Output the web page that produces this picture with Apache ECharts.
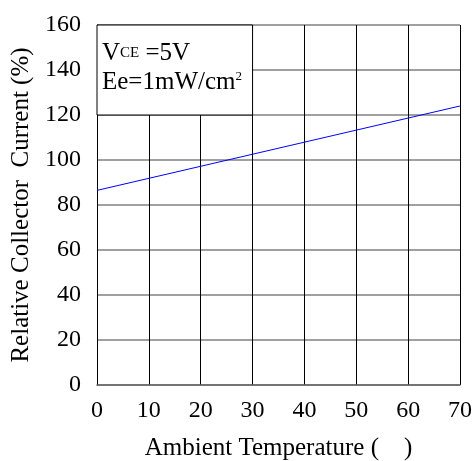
<!DOCTYPE html>
<html>
<head>
<meta charset="utf-8">
<script src="https://cdn.jsdelivr.net/npm/echarts@6/dist/echarts.min.js"></script>
<style>
  html, body { margin: 0; padding: 0; background: #fff; }
  #chart { width: 476px; height: 461px; }
</style>
</head>
<body>
<div id="chart"></div>
<script>
// 数据
var temperature = [0, 70]
var current = [86.5, 124]
var xTicks = [0, 70, 10]
var yTicks = [0, 160, 20]

var chart = echarts.init(document.getElementById('chart'))
var font = 'Liberation Serif'

chart.setOption({
  animation: false,
  grid: {
    left: 97,
    right: 16,
    top: 25,
    bottom: 76,
    outerBoundsMode: 'none'
  },
  xAxis: {
    type: 'value',
    min: xTicks[0],
    max: xTicks[1],
    interval: xTicks[2],
    name: 'Ambient Temperature (    )',
    nameLocation: 'middle',
    nameGap: 51,
    nameTextStyle: { fontFamily: font, fontSize: 25, color: '#000' },
    axisLine: { show: true, lineStyle: { color: '#666', width: 1.5 } },
    axisTick: { show: false },
    axisLabel: { fontFamily: font, fontSize: 24, color: '#000', margin: 14 },
    splitLine: { show: true, lineStyle: { color: '#000', width: 1 } }
  },
  yAxis: {
    type: 'value',
    min: yTicks[0],
    max: yTicks[1],
    interval: yTicks[2],
    name: 'Relative Collector  Current (%)',
    nameLocation: 'middle',
    nameGap: 60,
    nameTextStyle: { fontFamily: font, fontSize: 25, color: '#000' },
    axisLine: { show: true, lineStyle: { color: '#000', width: 1 } },
    axisTick: { show: false },
    axisLabel: { fontFamily: font, fontSize: 24, color: '#000', margin: 16 },
    splitLine: { show: true, lineStyle: { color: '#808080', width: 1.5 } }
  },
  series: [
    {
      type: 'line',
      data: temperature.map(function (t, i) { return [t, current[i]] }),
      symbol: 'none',
      lineStyle: { color: '#0000ff', width: 1 },
      markArea: {
        silent: true,
        itemStyle: { color: '#fff', borderColor: '#000', borderWidth: 1 },
        label: { show: false },
        data: [[{ coord: [0, 120] }, { coord: [30, 160] }]]
      }
    }
  ],
  // 条件说明
  graphic: [
    {
      type: 'text',
      left: 102,
      top: 41,
      z: 100,
      style: {
        text: '{a|V}{b|CE}{a| =5V}',
        rich: {
          a: { fontFamily: font, fontSize: 25, fill: '#000' },
          b: { fontFamily: font, fontSize: 15, fill: '#000', padding: [0, 0, 1, 0] }
        }
      }
    },
    {
      type: 'text',
      left: 102,
      top: 70,
      z: 100,
      style: {
        text: '{a|Ee=1mW/cm}{s|2}',
        rich: {
          a: { fontFamily: font, fontSize: 25, fill: '#000' },
          s: { fontFamily: font, fontSize: 13, fill: '#000', verticalAlign: 'top', padding: [0, 0, 10, 0] }
        }
      }
    }
  ]
})
</script>
</body>
</html>
